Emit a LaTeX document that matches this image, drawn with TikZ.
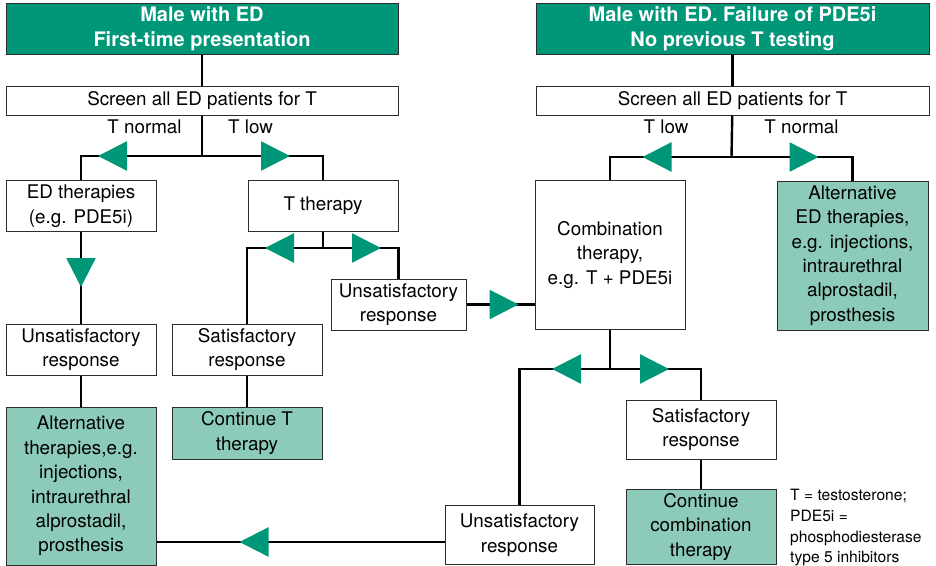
\documentclass[tikz,border=0pt]{standalone}
\usepackage{fontspec}
\setmainfont{TeX Gyre Heros}
\usetikzlibrary{arrows.meta,positioning,decorations.markings}
\definecolor{edgreen}{RGB}{0,150,120}
\definecolor{edlight}{RGB}{140,203,185}
\definecolor{boxgray}{RGB}{45,45,45}

\begin{document}
\begin{tikzpicture}[
    x=1pt, y=-1pt,
    box/.style={rectangle, draw=boxgray, fill=white, line width=1pt, align=center, inner sep=1pt, font=\fontsize{18.8}{24.4}\selectfont},
    headbox/.style={box, fill=edgreen, text=white, minimum width=392pt, minimum height=51pt, font=\fontsize{20}{24.5}\selectfont\bfseries},
    endbox/.style={box, fill=edlight},
    lbl/.style={inner sep=0pt, font=\fontsize{18.8}{22}\selectfont},
    conn/.style={line width=2.4pt, draw=black},
    tipat/.style={postaction={decorate}, decoration={markings, mark=at position #1 with {\arrow{Triangle[length=29pt,width=29pt,color=edgreen]}}}}
]
\useasboundingbox (0,0) rectangle (936,565);

% first-time presentation
\node[headbox] (head1) at (202,28.5) {Male with ED\\First-time presentation};
\node[box, minimum width=392pt, minimum height=29pt, below=31pt of head1] (screen1) {Screen all ED patients for T};
\node[lbl] (tnorm1) at (144.5,127) {T normal};
\node[lbl] (tlow1) at (250.5,127) {T low};

\node[box, minimum width=150pt, minimum height=51pt] (edther) at (81,206) {ED therapies\\(e.g. PDE5i)};
\node[box, minimum width=150pt, minimum height=51pt] (tther) at (323,205.5) {T therapy};
\node[box, minimum width=150pt, minimum height=51pt] (unsL) at (81,349.5) {Unsatisfactory\\response};
\node[box, minimum width=150pt, minimum height=51pt] (satL) at (247,349.5) {Satisfactory\\response};
\node[box, minimum width=135pt, minimum height=51pt] (unsM) at (398.5,304.5) {Unsatisfactory\\response};
\node[endbox, minimum width=150pt, minimum height=158pt] (altL) at (81,486) {Alternative\\therapies,e.g.\\injections,\\intraurethral\\alprostadil,\\prosthesis};
\node[endbox, minimum width=150pt, minimum height=52pt] (contT) at (247,433) {Continue T\\therapy};

% failure of PDE5i
\node[headbox, minimum width=393pt, right=137pt of head1] (head2) {Male with ED. Failure of PDE5i\\No previous T testing};
\node[box, minimum width=393pt, minimum height=29pt, below=31pt of head2] (screen2) {Screen all ED patients for T};
\node[lbl] (tlow2) at (666,127) {T low};
\node[lbl] (tnorm2) at (801.5,127) {T normal};

\node[box, minimum width=150pt, minimum height=149pt] (comb) at (610,255) {Combination\\therapy,\\e.g. T + PDE5i};
\node[endbox, minimum width=151pt, minimum height=149pt] (altR) at (852.5,255.5) {Alternative\\ED therapies,\\e.g. injections,\\intraurethral\\alprostadil,\\prosthesis};
\node[box, minimum width=150pt, minimum height=59pt] (satR) at (701,429.5) {Satisfactory\\response};
\node[endbox, minimum width=150pt, minimum height=75pt] (contC) at (701,527) {Continue\\combination\\therapy};
\node[box, minimum width=149pt, minimum height=59pt] (unsB) at (519.5,535) {Unsatisfactory\\response};

\node[lbl, anchor=north west, align=left, font=\fontsize{15.6}{20.8}\selectfont] (note) at (790,489) {T = testosterone;\\PDE5i =\\phosphodiesterase\\type 5 inhibitors};

% connectors
\coordinate (j1) at (202,156);
\coordinate (j2) at (323,248);
\coordinate (j3) at (731.5,157);
\coordinate (j4) at (610,369);

\draw[conn] (head1) -- (screen1);
\draw[conn] (screen1) -- (j1);
\draw[conn, tipat=104pt] (j1) -| (edther);
\draw[conn, tipat=88pt] (j1) -| (tther);
\draw[conn, tipat=55pt] (edther) -- (unsL);
\draw[conn] (unsL) -- (altL);
\draw[conn] (tther) -- (j2);
\draw[conn, tipat=58pt] (j2) -| (satL);
\draw[conn, tipat=58pt] (j2) -| (unsM);
\draw[conn] (satL) -- (contT);
\draw[conn, tipat=52pt] (unsM) -- (unsM -| comb.west);

\draw[conn] (head2) -- (screen2);
\draw[conn] (screen2) -- (j3);
\draw[conn, tipat=89pt] (j3) -| (comb);
\draw[conn, tipat=87pt] (j3) -| (altR);
\draw[conn] (comb) -- (j4);
\draw[conn, tipat=58pt] (j4) -| (unsB);
\draw[conn, tipat=59pt] (j4) -| (satR);
\draw[conn] (satR) -- (contC);
\draw[conn, tipat=205pt] ([yshift=-7pt]unsB.west) -- ([yshift=-7pt]unsB.west -| altL.east);
\end{tikzpicture}
\end{document}
